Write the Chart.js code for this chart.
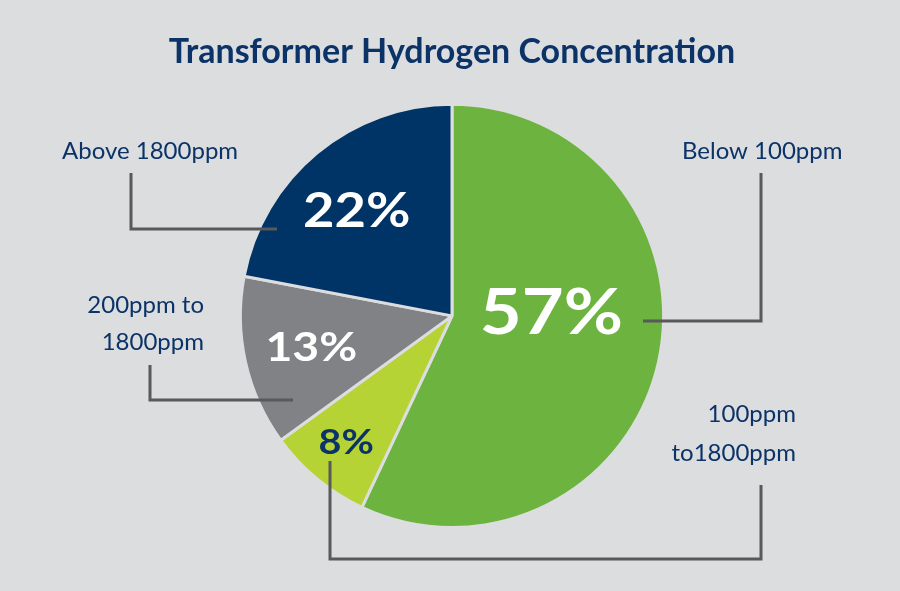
<!DOCTYPE html>
<html>
<head>
<meta charset="utf-8">
<script src="https://cdn.jsdelivr.net/npm/chart.js@4.4.1/dist/chart.umd.min.js"></script>
<style>
  html, body { margin: 0; padding: 0; background: #dcdddf; }
  #wrap { width: 900px; height: 591px; position: relative; }
</style>
</head>
<body>
<div id="wrap"><canvas id="c" width="900" height="591"></canvas></div>
<script>
const categories = ["Below 100ppm", "100ppm to1800ppm", "200ppm to 1800ppm", "Above 1800ppm"];
const values = [57, 8, 13, 22];
const percentLabels = ["57%", "8%", "13%", "22%"];
const calloutLines = [["Below 100ppm"], ["100ppm", "to1800ppm"], ["200ppm to", "1800ppm"], ["Above 1800ppm"]];

const colors = ["#6db33f", "#b5d334", "#808285", "#003366"];
const navy = "#0b3368";
const lineColor = "#58595b";
const labelFont = "Lato";

// annotation layout, in units of the pie radius relative to its centre
const pctStyle = [
  { dx: 0.47, dy: -0.02, size: 64, color: "#ffffff" },
  { dx: -0.50, dy: 0.595, size: 35, color: navy },
  { dx: -0.665, dy: 0.145, size: 41, color: "#ffffff" },
  { dx: -0.45, dy: -0.50, size: 48, color: "#ffffff" }
];
const pctStretch = 1.13;

const calloutPlugin = {
  id: 'callouts',
  afterDatasetsDraw(chart) {
    const ctx = chart.ctx;
    const arc = chart.getDatasetMeta(0).data[0];
    const cx = arc.x, cy = arc.y, R = arc.outerRadius;
    const P = (dx, dy) => [cx + dx * R, cy + dy * R];
    ctx.save();
    // percentage labels
    ctx.textAlign = 'center';
    ctx.textBaseline = 'middle';
    percentLabels.forEach((t, i) => {
      const s = pctStyle[i];
      const [x, y] = P(s.dx, s.dy);
      ctx.save();
      ctx.translate(x, y + s.size * 0.03);
      ctx.scale(pctStretch, 1);
      ctx.font = `bold ${s.size}px ${labelFont}`;
      ctx.fillStyle = s.color;
      ctx.fillText(t, 0, 0);
      ctx.restore();
    });
    // callout lines
    ctx.strokeStyle = lineColor;
    ctx.lineWidth = 3;
    ctx.lineJoin = 'miter';
    const px = (x) => (x - cx) / R, py = (y) => (y - cy) / R;
    const poly = (pts) => {
      ctx.beginPath();
      pts.forEach((p, k) => { const q = P(p[0], p[1]); k ? ctx.lineTo(q[0], q[1]) : ctx.moveTo(q[0], q[1]); });
      ctx.stroke();
    };
    poly([[px(643), py(321)], [px(761), py(321)], [px(761), py(173)]]);
    poly([[px(761), py(485)], [px(761), py(559)], [px(330), py(559)], [px(330), py(461)]]);
    poly([[px(150), py(365)], [px(150), py(400)], [px(293), py(400)]]);
    poly([[px(131), py(173)], [px(131), py(229)], [px(277), py(229)]]);
    // callout texts
    ctx.fillStyle = navy;
    ctx.font = `24px ${labelFont}`;
    ctx.textBaseline = 'alphabetic';
    const drawText = (t, x, y, align) => { ctx.textAlign = align; ctx.fillText(t, cx + px(x) * R, cy + py(y) * R); };
    drawText(calloutLines[0][0], 682, 159, 'left');
    drawText(calloutLines[1][0], 796, 422, 'right');
    drawText(calloutLines[1][1], 796, 461, 'right');
    drawText(calloutLines[2][0], 204, 313, 'right');
    drawText(calloutLines[2][1], 204, 350, 'right');
    drawText(calloutLines[3][0], 62, 159, 'left');
    ctx.restore();
  }
};

new Chart(document.getElementById('c'), {
  type: 'pie',
  data: {
    labels: categories,
    datasets: [{
      data: values,
      backgroundColor: colors,
      borderColor: "#dcdddf",
      borderWidth: 3
    }]
  },
  options: {
    responsive: false,
    animation: false,
    layout: { padding: { top: 0, bottom: 62, left: 4, right: 0 } },
    plugins: {
      legend: { display: false },
      tooltip: { enabled: false },
      title: {
        display: true,
        text: "Transformer Hydrogen Concentration",
        color: navy,
        font: { family: labelFont, size: 34, weight: 'bold', lineHeight: 1.2 },
        padding: { top: 32, bottom: 30 }
      }
    }
  },
  plugins: [calloutPlugin]
});
</script>
</body>
</html>
